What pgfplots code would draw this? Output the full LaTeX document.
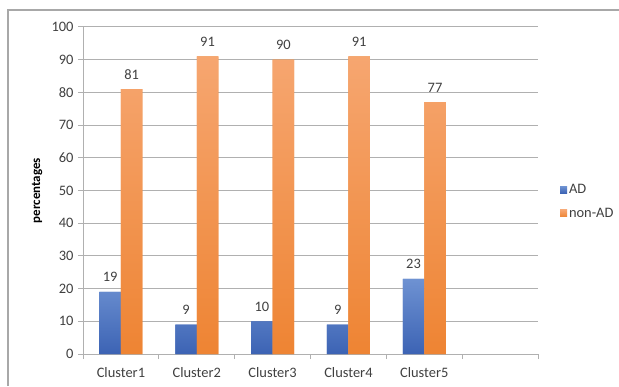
\documentclass[border=0pt]{standalone}
\usepackage{pgfplots}
\pgfplotsset{compat=1.18}
\usepackage{fontspec}
\setmainfont{Carlito}

\definecolor{txt}{HTML}{404040}
\definecolor{gridc}{HTML}{B0B0B0}
\definecolor{frame}{HTML}{A8A8A8}
\definecolor{adtop}{HTML}{6E92D2}
\definecolor{adbot}{HTML}{3C63B4}
\definecolor{natop}{HTML}{F6A670}
\definecolor{nabot}{HTML}{EE8433}

\begin{document}
\begin{tikzpicture}[x=1bp,y=1bp]
  \useasboundingbox (0,0) rectangle (619,386);
  % chart area border
  \draw[frame, line width=1.2bp] (8,0) -- (8,376) -- (619,376);
  \begin{axis}[
    at={(83bp,32bp)}, anchor=south west,
    scale only axis, width=455bp, height=327bp,
    ymin=0, ymax=100, ytick={0,10,...,100},
    xmin=-0.5, xmax=5.5,
    xtick={-0.5,0.5,...,5.5},
    x tick label as interval,
    xticklabels={Cluster1,Cluster2,Cluster3,Cluster4,Cluster5,{}},
    axis x line*=bottom, axis y line*=left,
    x axis line style={-, gridc, line width=1bp},
    y axis line style={-, gridc, line width=1bp},
    tick align=outside, major tick length=5bp,
    tick style={gridc, line width=1bp},
    ymajorgrids, major grid style={gridc, line width=1bp},
    /pgf/number format/assume math mode=true,
    font=\fontsize{14.5}{17}\selectfont\color{txt},
    ticklabel style={font=\fontsize{14.5}{17}\selectfont, text=txt},
    xticklabel style={yshift=-5bp},
    yticklabel style={xshift=-1bp},
    ylabel={\bfseries percentages},
    ylabel style={at={(rel axis cs:-0.101,0.5)}, anchor=center,
      font=\fontsize{13}{15}\selectfont, text=black},
    ybar=0pt, bar width=21.5bp,
    nodes near coords,
    every node near coord/.append style={font=\fontsize{14.5}{17}\selectfont, text=txt, yshift=6.5bp},
    legend style={at={(1.048,0.466)}, anchor=west, draw=none, fill=none,
      font=\fontsize{14.5}{17}\selectfont, text=txt,
      row sep=9bp, inner sep=0pt},
    legend cell align=left,
    legend image code/.code={\fill[#1] (0bp,-3.5bp) rectangle (7bp,3.5bp);},
  ]
    \addplot[draw=none, top color=adtop, bottom color=adbot, fill=adbot]
      coordinates {(0,19) (1,9) (2,10) (3,9) (4,23)};
    \addplot[draw=none, top color=natop, bottom color=nabot, fill=nabot]
      coordinates {(0,81) (1,91) (2,90) (3,91) (4,77)};
    \legend{AD, non-AD}
  \end{axis}
\end{tikzpicture}
\end{document}
